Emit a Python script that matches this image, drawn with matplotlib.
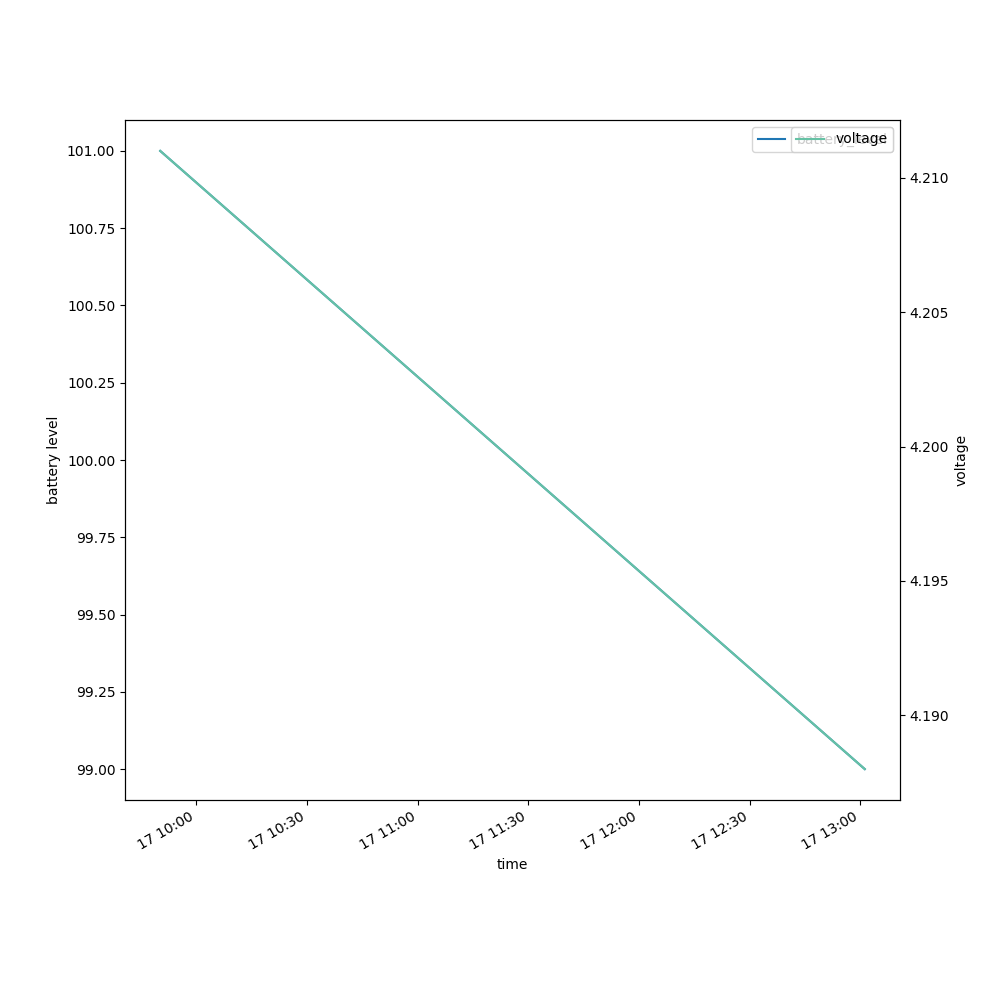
import matplotlib
matplotlib.use("Agg")
import matplotlib.pyplot as plt
import pandas as pd

# readings (start / end of the log)
times = ["2023-05-17 09:50:15", "2023-05-17 13:01:10"]
battery_level = [101.0, 99.0]
voltage = [4.211, 4.188]

df = pd.DataFrame({"time": pd.to_datetime(times),
                   "battery_level": battery_level,
                   "voltage": voltage})

fig, ax = plt.subplots(figsize=(10, 10), dpi=100)

# battery level on the left axis
ax.plot(df["time"], df["battery_level"], color="tab:blue", label="battery_level")
ax.set_ylabel("battery level")
ax.set_xlabel("time")
ax.legend(loc="upper right")

# voltage on a twin axis
ax2 = ax.twinx()
ax2.plot(df["time"], df["voltage"], color=matplotlib.cm.Set2.colors[0], label="voltage")
ax2.set_ylabel("voltage")
ax2.legend(loc="upper right")

fig.autofmt_xdate()

plt.savefig("out.png", dpi=100)
